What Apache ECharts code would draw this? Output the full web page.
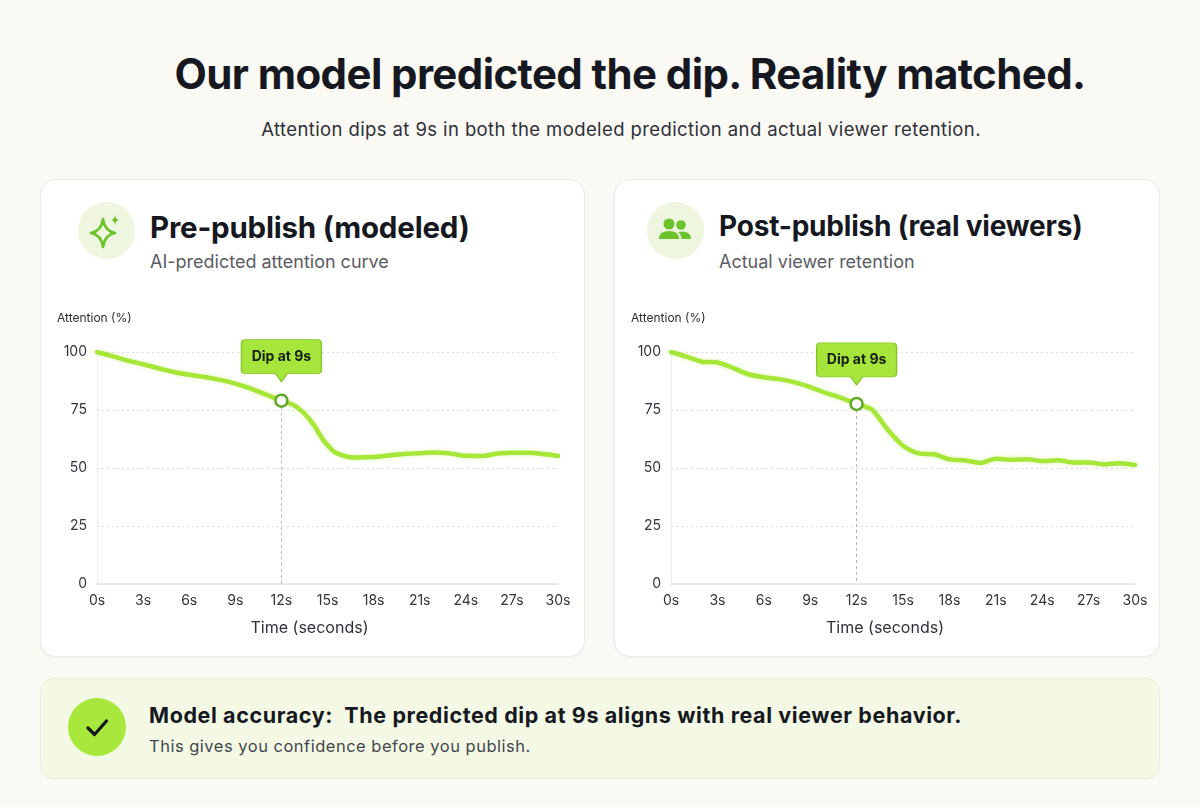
<!DOCTYPE html>
<html>
<head>
<meta charset="utf-8">
<script src="https://cdn.jsdelivr.net/npm/echarts@6/dist/echarts.min.js"></script>
<style>
  html, body { margin: 0; padding: 0; }
  body { width: 1200px; height: 807px; background: #fbf9f3; position: relative; overflow: hidden; font-family: Inter, "Noto Sans", sans-serif; color: #161821; }
  .title { position: absolute; left: 0; width: 1260px; top: 48px; text-align: center; font-size: 42px; font-weight: 700; letter-spacing: -0.6px; }
  .subtitle { position: absolute; left: 0; width: 1242px; top: 118px; text-align: center; font-size: 18.5px; letter-spacing: 0.4px; color: #2e3038; }
  .card { position: absolute; top: 179px; height: 476px; background: #fff; border: 1px solid #ebebe6; border-radius: 16px; box-shadow: 0 1px 3px rgba(0,0,0,0.04); }
  .icon { position: absolute; top: 202px; width: 57px; height: 57px; border-radius: 50%; background: #eff6e0; }
  .icon svg { position: absolute; left: 0; top: 0; }
  .ctitle { position: absolute; top: 209px; font-size: 28px; font-weight: 700; letter-spacing: -0.2px; }
  .csub { position: absolute; top: 251px; font-size: 18px; color: #5a5c63; }
  .chart { position: absolute; top: 300px; height: 352px; }
  .banner { position: absolute; left: 40px; top: 678px; width: 1118px; height: 99px; background: #f3f9e5; border: 1px solid #e8f0d6; border-radius: 14px; }
  .check { position: absolute; left: 68px; top: 698px; width: 58px; height: 58px; border-radius: 50%; background: #a8e83c; }
  .btitle { position: absolute; left: 149px; top: 702px; font-size: 21.5px; font-weight: 700; letter-spacing: 0.6px; }
  .bsub { position: absolute; left: 149px; top: 736px; font-size: 16.5px; letter-spacing: 0.5px; color: #44464d; }
</style>
</head>
<body>
<div class="title">Our model predicted the dip. Reality matched.</div>
<div class="subtitle">Attention dips at 9s in both the modeled prediction and actual viewer retention.</div>

<div class="card" style="left:40px;width:543px;"></div>
<div class="card" style="left:614px;width:544px;"></div>

<div class="icon" style="left:78px;">
  <svg width="57" height="57" viewBox="0 0 57 57">
    <path d="M25 17 Q26.5 29 37 31 Q26.5 33 25 45 Q23.5 33 13 31 Q23.5 29 25 17 Z" fill="none" stroke="#6cc22a" stroke-width="2.6" stroke-linejoin="round"/>
    <path d="M37 13 Q37.6 17.4 41 18 Q37.6 18.6 37 23 Q36.4 18.6 33 18 Q36.4 17.4 37 13 Z" fill="#6cc22a"/>
  </svg>
</div>
<div class="ctitle" style="left:150px;font-size:29.5px;">Pre-publish (modeled)</div>
<div class="csub" style="left:150px;">AI-predicted attention curve</div>

<div class="icon" style="left:647px;">
  <svg width="57" height="57" viewBox="0 0 57 57">
    <circle cx="22" cy="22" r="5.5" fill="#6cc22a"/>
    <path d="M12 37 Q12 29 22 29 Q32 29 32 37 Z" fill="#6cc22a"/>
    <circle cx="34" cy="23" r="4.8" fill="#6cc22a"/>
    <path d="M31 30 Q34 29.5 36 29.5 Q44 30 44 37 L34.5 37 Q34.5 33 31 30 Z" fill="#6cc22a"/>
  </svg>
</div>
<div class="ctitle" style="left:719px;">Post-publish (real viewers)</div>
<div class="csub" style="left:719px;">Actual viewer retention</div>

<div id="chartModeled" class="chart" style="left:40px;width:544px;"></div>
<div id="chartReal" class="chart" style="left:614px;width:545px;"></div>

<div class="banner"></div>
<div class="check">
  <svg width="58" height="58" viewBox="0 0 58 58">
    <path d="M20 30 L26.5 36.5 L38.5 23" fill="none" stroke="#15171c" stroke-width="3.2" stroke-linecap="round" stroke-linejoin="round"/>
  </svg>
</div>
<div class="btitle">Model accuracy:&nbsp; The predicted dip at 9s aligns with real viewer behavior.</div>
<div class="bsub">This gives you confidence before you publish.</div>

<script>
// valores (segundos 0..30)
const segundos = [0,1,2,3,4,5,6,7,8,9,10,11,12,13,14,15,16,17,18,19,20,21,22,23,24,25,26,27,28,29,30];
const atencionModelo = [100, 98.2, 96.3, 94.7, 93.0, 91.4, 90.2, 89.2, 88.0, 86.4, 84.2, 81.6, 79.0, 76.3, 69.5, 59.8, 55.4, 54.5, 54.7, 55.4, 56.0, 56.4, 56.7, 56.2, 55.3, 55.2, 56.1, 56.6, 56.6, 56.0, 55.2];
const retencionReal = [100, 98.0, 95.8, 95.5, 93.2, 90.4, 89.1, 88.3, 86.9, 84.9, 82.4, 80.2, 77.6, 75.1, 66.6, 59.6, 56.3, 55.9, 53.8, 53.2, 52.2, 54.0, 53.6, 53.8, 53.0, 53.3, 52.4, 52.4, 51.6, 52.0, 51.3];
const segundoMarcado = 12;
const textoMarca = 'Dip at 9s';

const LIMA = '#a5e637';
const calloutPath = 'path://M4,0 H76 Q80,0 80,4 V30 Q80,34 76,34 H46 L40,42 L34,34 H4 Q0,34 0,30 V4 Q0,0 4,0 Z';

function opcionGrafico(valores, suave, gridLeft, gridRight) {
    const idx = segundos.indexOf(segundoMarcado);
    const yMarca = valores[idx];
    return {
        animation: false,
        grid: { left: gridLeft, right: gridRight, top: 52, bottom: 68 },
        graphic: [{
            type: 'text', left: 17, top: 12,
            style: { text: 'Attention (%)', fill: '#2a2c33', font: '12px Inter, sans-serif' }
        }],
        xAxis: {
            type: 'value', min: 0, max: 30, interval: 3,
            name: 'Time (seconds)', nameLocation: 'middle', nameGap: 36,
            nameTextStyle: { color: '#2f3138', fontSize: 16, fontFamily: 'Inter', padding: [0, 36, 0, 0] },
            axisLine: { show: true, lineStyle: { color: '#e2e2e2', width: 1.5 } },
            axisTick: { show: false },
            axisLabel: { color: '#33353c', fontSize: 14, fontFamily: 'Inter', margin: 10, formatter: v => v + 's' },
            splitLine: { show: false }
        },
        yAxis: {
            type: 'value', min: 0, max: 100, interval: 25,
            axisLine: { show: true, lineStyle: { color: '#ececec', width: 1 } },
            axisTick: { show: false },
            axisLabel: { color: '#33353c', fontSize: 14, fontFamily: 'Inter', margin: 10 },
            splitLine: { show: true, lineStyle: { color: '#dcdcdc', type: [2, 3], width: 1 } }
        },
        series: [{
            type: 'line',
            data: segundos.map((s, i) => [s, valores[i]]),
            smooth: suave,
            showSymbol: false,
            lineStyle: { color: LIMA, width: 4.5, cap: 'round', shadowColor: 'rgba(163,230,53,0.35)', shadowBlur: 4 },
            markLine: {
                silent: true, symbol: 'none',
                label: { show: false },
                lineStyle: { color: '#b5b5b5', type: [3, 3], width: 1 },
                data: [[{ coord: [segundoMarcado, yMarca] }, { coord: [segundoMarcado, 0] }]]
            },
            markPoint: {
                silent: true,
                data: [
                    {
                        coord: [segundoMarcado, yMarca],
                        symbol: calloutPath, symbolSize: [80, 42], symbolKeepAspect: false,
                        symbolOffset: [0, -40],
                        itemStyle: { color: '#a6e63c', borderColor: '#86c52a', borderWidth: 1 },
                        label: { show: true, position: 'inside', offset: [0, -4], formatter: textoMarca, color: '#17200c', fontSize: 14, fontWeight: 'bold', fontFamily: 'Inter' }
                    },
                    {
                        coord: [segundoMarcado, yMarca],
                        symbol: 'circle', symbolSize: 12,
                        itemStyle: { color: '#ffffff', borderColor: '#5fa82a', borderWidth: 2.5 },
                        label: { show: false }
                    }
                ]
            }
        }]
    };
}

const graficoModelo = echarts.init(document.getElementById('chartModeled'));
graficoModelo.setOption(opcionGrafico(atencionModelo, 0.5, 57, 26));

const graficoReal = echarts.init(document.getElementById('chartReal'));
graficoReal.setOption(opcionGrafico(retencionReal, 0.25, 57, 24));
</script>
</body>
</html>
